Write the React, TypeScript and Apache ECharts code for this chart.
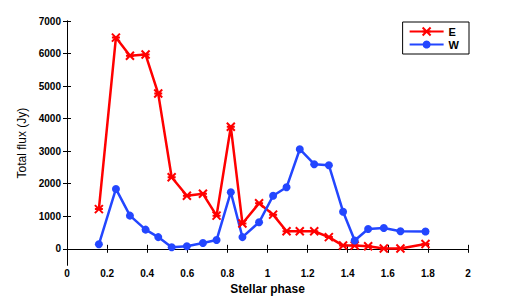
import React, { useEffect, useRef } from 'react';
import * as echarts from 'echarts';

const phases = [0.159, 0.244, 0.314, 0.392, 0.455, 0.522, 0.598, 0.678, 0.746, 0.817, 0.875, 0.958, 1.028, 1.095, 1.161, 1.233, 1.306, 1.377, 1.435, 1.502, 1.58, 1.663, 1.788];
const fluxE = [1220, 6490, 5930, 5970, 4770, 2200, 1630, 1690, 1020, 3750, 780, 1400, 1050, 540, 540, 540, 360, 100, 100, 80, 10, 10, 150];
const fluxW = [140, 1840, 1020, 590, 360, 50, 80, 180, 270, 1740, 360, 815, 1630, 1890, 3060, 2600, 2570, 1140, 255, 610, 640, 540, 530];
const yTicks = [0, 1000, 2000, 3000, 4000, 5000, 6000, 7000];

const RED = '#ff0000';
const BLUE = '#2346ff';
const FONT = 'Liberation Sans, Arial, sans-serif';

export default function App() {
  const ref = useRef<HTMLDivElement>(null);
  useEffect(() => {
    const chart = echarts.init(ref.current!, null, { renderer: 'svg' });
    const lineAxis = { show: true, lineStyle: { color: '#000', width: 1 } };
    chart.setOption({
      animation: false,
      backgroundColor: '#fff',
      grid: { left: 67, right: 50, top: 21, bottom: 33, containLabel: false },
      legend: {
        data: ['E', 'W'],
        orient: 'vertical',
        right: 49,
        top: 22,
        itemWidth: 34,
        itemHeight: 10,
        itemGap: 2,
        padding: [4, 10, 4, 6],
        backgroundColor: '#fff',
        borderColor: '#000',
        borderWidth: 1,
        borderRadius: 0,
        textStyle: { fontFamily: FONT, fontWeight: 'bold', fontSize: 11, color: '#000' },
      },
      xAxis: [
        {
          type: 'value', min: 0, max: 2, interval: 0.2,
          name: 'Stellar phase', nameLocation: 'middle', nameGap: 13,
          nameTextStyle: { fontFamily: FONT, fontWeight: 'bold', fontSize: 12, color: '#000' },
          axisLine: lineAxis,
          axisTick: { show: true, inside: true, length: 4, lineStyle: { color: '#000' } },
          axisLabel: { fontFamily: FONT, fontWeight: 'bold', fontSize: 10, color: '#000', margin: 3 },
          splitLine: { show: false },
        },
        {
          type: 'value', min: 0, max: 2, interval: 0.2, position: 'top',
          axisLine: lineAxis,
          axisTick: { show: true, inside: true, length: 4, lineStyle: { color: '#000' } },
          axisLabel: { show: false },
          splitLine: { show: false },
        },
      ],
      yAxis: [
        {
          type: 'value', min: -500, max: 7000,
          name: 'Total flux (Jy)', nameLocation: 'middle', nameGap: 30,
          nameTextStyle: { fontFamily: FONT, fontSize: 12, color: '#000' },
          axisLine: lineAxis,
          axisTick: { show: true, inside: true, length: 4, lineStyle: { color: '#000' }, customValues: yTicks },
          axisLabel: {
            fontFamily: FONT, fontWeight: 'bold', fontSize: 10, color: '#000', margin: 6,
            customValues: yTicks, formatter: (v: number) => String(v),
          },
          splitLine: { show: false },
        },
        {
          type: 'value', min: -500, max: 7000, position: 'right',
          axisLine: lineAxis,
          axisTick: { show: true, inside: true, length: 4, lineStyle: { color: '#000' }, customValues: yTicks },
          axisLabel: { show: false },
          splitLine: { show: false },
        },
      ],
      series: [
        {
          name: 'E', type: 'line',
          data: phases.map((p, i) => [p, fluxE[i]]),
          symbol: 'path://M0,0L10,10M10,0L0,10M0,5L10,5',
          symbolSize: 8,
          showAllSymbol: true,
          lineStyle: { color: RED, width: 2.5 },
          itemStyle: { color: RED, borderColor: RED, borderWidth: 2 },
        },
        {
          name: 'W', type: 'line',
          data: phases.map((p, i) => [p, fluxW[i]]),
          symbol: 'circle',
          symbolSize: 8,
          showAllSymbol: true,
          lineStyle: { color: BLUE, width: 2.5 },
          itemStyle: { color: BLUE },
        },
      ],
    });
    return () => chart.dispose();
  }, []);
  return <div ref={ref} style={{ position: 'fixed', left: 0, top: 0, width: 518, height: 300 }} />;
}
